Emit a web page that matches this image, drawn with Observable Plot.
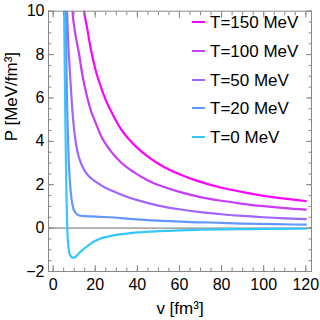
<!DOCTYPE html>
<html>
<head>
<meta charset="utf-8">
<script src="https://cdn.jsdelivr.net/npm/d3@7"></script>
<script src="https://cdn.jsdelivr.net/npm/@observablehq/plot@0.6"></script>
<style>
  html, body { margin: 0; padding: 0; background: #fff; }
  #wrap { position: relative; width: 320px; height: 320px; font-family: "Liberation Sans", Arial, sans-serif; }
  .leg { position: absolute; font-size: 17px; color: #000; white-space: nowrap; line-height: 17px; }
  .legline { position: absolute; height: 1.6px; width: 13px; }
</style>
</head>
<body>
<div id="wrap"></div>
<script>
// ---- data ----
const labels = ["T=150 MeV", "T=100 MeV", "T=50 MeV", "T=20 MeV", "T=0 MeV"];
const colors = ["#ff00ff", "#c83cf5", "#a064ff", "#6496ff", "#32c8ff"];

const v150 = [14, 14.7, 16, 18, 20, 22, 25, 28, 32, 36, 40, 45, 50, 55, 60, 70, 80, 90, 100, 110, 120];
const p150 = [10.7, 10, 9.3, 8.2, 7.35, 6.7, 5.9, 5.3, 4.6, 4.1, 3.7, 3.3, 2.97, 2.7, 2.48, 2.13, 1.86, 1.66, 1.49, 1.36, 1.25];

const v100 = [8.8, 9.2, 10, 11, 12, 14, 16, 18, 20, 23, 27, 32, 38, 45, 52, 60, 70, 80, 90, 100, 110, 120];
const p100 = [10.8, 10, 9.3, 8.7, 8.2, 7.0, 6.1, 5.4, 4.9, 4.2, 3.6, 3.05, 2.6, 2.2, 1.92, 1.67, 1.43, 1.26, 1.12, 1.01, 0.92, 0.85];

const v50 = [6.2, 6.6, 7.2, 8.1, 9, 10, 11, 12, 13, 14, 16, 18, 20, 24, 28, 34, 40, 50, 60, 70, 80, 90, 100, 110, 120];
const p50 = [11, 10, 8.5, 7.0, 5.6, 4.5, 3.8, 3.35, 3.05, 2.82, 2.5, 2.3, 2.15, 1.9, 1.72, 1.48, 1.29, 1.04, 0.87, 0.74, 0.64, 0.56, 0.5, 0.45, 0.41];

const v20 = [5.8, 6.0, 6.3, 6.8, 7.3, 8, 8.8, 9.6, 10.5, 11.5, 13, 15, 18, 22, 27, 35, 45, 55, 65, 75, 90, 105, 120];
const p20 = [11, 10, 7.5, 5, 3.4, 2.1, 1.3, 0.9, 0.72, 0.62, 0.57, 0.55, 0.54, 0.52, 0.5, 0.44, 0.37, 0.32, 0.28, 0.26, 0.21, 0.18, 0.16];

const v0 = [5.0, 5.2, 5.5, 5.8, 6.1, 6.4, 6.7, 7.1, 7.6, 8.3, 9.2, 9.8, 10.6, 11.5, 12.5, 14, 16, 19, 22, 26, 30, 35, 40, 50, 60, 70, 80, 95, 120];
const p0 = [11, 10, 7.5, 5, 3, 1.2, 0, -0.7, -1.1, -1.28, -1.36, -1.36, -1.33, -1.24, -1.14, -1.0, -0.85, -0.64, -0.5, -0.39, -0.31, -0.25, -0.2, -0.14, -0.1, -0.075, -0.06, -0.045, -0.03];

const xMajor = [0, 20, 40, 60, 80, 100, 120];
const xMinor = d3.range(0, 121, 5);
const yMajor = [-2, 0, 2, 4, 6, 8, 10];
const yMinor = d3.range(-2, 10.01, 0.5);

// ---- build series ----
const seriesV = [v150, v100, v50, v20, v0];
const seriesP = [p150, p100, p50, p20, p0];
const series = seriesV.map((vs, i) => vs.map((v, j) => ({v, p: seriesP[i][j], k: labels[i]})));

const font = '"Liberation Sans", Arial, sans-serif';
const frameColor = "#888";

const marks = [
  Plot.ruleY([0], {stroke: "#aaa", strokeWidth: 1.8}),
  ...series.map((s, i) => Plot.line(s, {x: "v", y: "p", stroke: colors[i], strokeWidth: 2.2, curve: "monotone-x", clip: true})),
  Plot.frame({stroke: frameColor}),
  // ticks inward on all four sides
  Plot.axisX({anchor: "bottom", ticks: xMinor, tickSize: -3.5, text: null, label: null, stroke: frameColor}),
  Plot.axisX({anchor: "bottom", ticks: xMajor, tickSize: -6, text: null, label: null, stroke: frameColor}),
  Plot.axisX({anchor: "top", ticks: xMinor, tickSize: -3.5, text: null, label: null, stroke: frameColor}),
  Plot.axisX({anchor: "top", ticks: xMajor, tickSize: -6, text: null, label: null, stroke: frameColor}),
  Plot.axisY({anchor: "left", ticks: yMinor, tickSize: -3.5, text: null, label: null, stroke: frameColor}),
  Plot.axisY({anchor: "left", ticks: yMajor, tickSize: -6, text: null, label: null, stroke: frameColor}),
  Plot.axisY({anchor: "right", ticks: yMinor, tickSize: -3.5, text: null, label: null, stroke: frameColor}),
  Plot.axisY({anchor: "right", ticks: yMajor, tickSize: -6, text: null, label: null, stroke: frameColor}),
  // labels
  Plot.axisX({anchor: "bottom", ticks: xMajor, tickSize: 0, tickPadding: 7, label: null, fontSize: 16, fill: "#000"}),
  Plot.axisY({anchor: "left", ticks: yMajor, tickSize: 0, tickPadding: 4, label: null, fontSize: 16, fill: "#000"}),
  Plot.text(["v [fm³]"], {frameAnchor: "bottom", dy: 42, fontSize: 17, fill: "#000"}),
  Plot.text(["P [MeV/fm³]"], {frameAnchor: "left", dx: -37, rotate: -90, fontSize: 17, fill: "#000"})
];

const chart = Plot.plot({
  width: 320,
  height: 320,
  marginLeft: 48,
  marginRight: 9,
  marginTop: 10.7,
  marginBottom: 49,
  style: {fontFamily: font, background: "#fff", overflow: "visible"},
  x: {domain: [-2.2, 122.7]},
  y: {domain: [-2, 10]},
  marks
});

const wrap = document.getElementById("wrap");
wrap.appendChild(chart);

// legend (inside the plot, top right)
const legY = [22, 51, 80, 108, 137];
labels.forEach((lab, i) => {
  const ln = document.createElement("div");
  ln.className = "legline";
  ln.style.left = "192px";
  ln.style.top = (legY[i] - 1) + "px";
  ln.style.background = colors[i];
  wrap.appendChild(ln);
  const t = document.createElement("div");
  t.className = "leg";
  t.style.left = "210px";
  t.style.top = (legY[i] - 8.5) + "px";
  t.textContent = lab;
  wrap.appendChild(t);
});
</script>
</body>
</html>
